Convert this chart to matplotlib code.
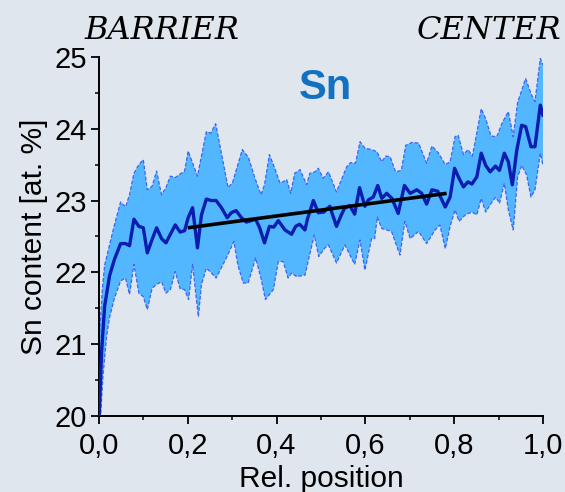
import matplotlib.pyplot as plt
import numpy as np
from matplotlib.ticker import FuncFormatter, MultipleLocator

# mean Sn profile
mean_x = [0.0, 0.006, 0.013, 0.024, 0.035, 0.049, 0.06, 0.069, 0.079, 0.09,
          0.10, 0.109, 0.12, 0.13, 0.141, 0.151, 0.161, 0.172, 0.183, 0.193,
          0.201, 0.211, 0.222, 0.231, 0.242, 0.253, 0.264, 0.276, 0.289, 0.298,
          0.309, 0.321, 0.332, 0.343, 0.353, 0.362, 0.373, 0.384, 0.394, 0.404,
          0.419, 0.434, 0.443, 0.452, 0.464, 0.470, 0.483, 0.494, 0.507, 0.520,
          0.535, 0.546, 0.553, 0.565, 0.576, 0.587, 0.599, 0.607, 0.618, 0.628,
          0.637, 0.648, 0.660, 0.674, 0.688, 0.701, 0.716, 0.727, 0.738, 0.750,
          0.763, 0.780, 0.791, 0.801, 0.811, 0.821, 0.831, 0.840, 0.851, 0.861,
          0.871, 0.881, 0.893, 0.902, 0.913, 0.922, 0.931, 0.941, 0.952, 0.961,
          0.973, 0.982, 0.994, 1.0]
mean_y = [19.9, 20.88, 21.53, 21.95, 22.18, 22.40, 22.40, 22.37, 22.74, 22.64,
          22.62, 22.27, 22.46, 22.62, 22.47, 22.41, 22.53, 22.66, 22.56, 22.58,
          22.76, 22.90, 22.34, 22.80, 23.02, 23.00, 23.00, 22.90, 22.76, 22.83,
          22.86, 22.76, 22.70, 22.72, 22.74, 22.62, 22.41, 22.64, 22.63, 22.72,
          22.59, 22.53, 22.64, 22.67, 22.59, 22.75, 23.00, 22.83, 22.84, 22.92,
          22.64, 22.80, 22.89, 22.93, 22.81, 23.18, 22.92, 23.01, 23.05, 23.21,
          23.03, 23.10, 23.03, 22.82, 23.21, 23.10, 23.15, 23.10, 22.95, 23.15,
          23.13, 22.91, 23.05, 23.45, 23.31, 23.19, 23.26, 23.23, 23.33, 23.66,
          23.49, 23.40, 23.48, 23.42, 23.66, 23.54, 23.22, 23.70, 24.05, 24.03,
          23.75, 23.75, 24.33, 24.19]

# upper edge of the spread band
upper_x = [0.0, 0.002, 0.008, 0.013, 0.024, 0.035, 0.049, 0.06, 0.069, 0.079,
           0.09, 0.10, 0.109, 0.12, 0.13, 0.141, 0.151, 0.161, 0.172, 0.183,
           0.193, 0.201, 0.222, 0.242, 0.252, 0.263, 0.291, 0.301, 0.323, 0.337,
           0.351, 0.365, 0.373, 0.384, 0.396, 0.408, 0.423, 0.432, 0.441, 0.453,
           0.468, 0.475, 0.487, 0.494, 0.505, 0.517, 0.535, 0.558, 0.567, 0.578,
           0.588, 0.599, 0.614, 0.626, 0.637, 0.646, 0.656, 0.668, 0.681, 0.691,
           0.705, 0.720, 0.738, 0.750, 0.765, 0.780, 0.791, 0.802, 0.809, 0.821,
           0.831, 0.841, 0.851, 0.861, 0.871, 0.883, 0.896, 0.908, 0.922, 0.933,
           0.943, 0.961, 0.973, 0.982, 0.994, 1.0]
upper_y = [20.3, 21.18, 21.78, 22.10, 22.38, 22.66, 22.98, 22.91, 23.08, 23.38,
           23.50, 23.57, 23.15, 23.20, 23.41, 23.08, 23.18, 23.34, 23.32, 23.37,
           23.41, 23.69, 23.34, 23.96, 23.94, 24.07, 23.18, 23.25, 23.71, 23.60,
           23.32, 23.08, 23.22, 23.64, 23.45, 23.24, 23.29, 23.10, 23.38, 23.43,
           23.22, 23.38, 23.40, 23.45, 23.31, 23.40, 23.12, 23.47, 23.53, 23.52,
           23.82, 23.73, 23.71, 23.68, 23.54, 23.62, 23.61, 23.40, 23.42, 23.77,
           23.81, 23.80, 23.52, 23.76, 23.66, 23.50, 23.54, 23.89, 23.91, 23.64,
           23.71, 23.62, 23.94, 24.28, 24.14, 23.90, 23.89, 24.08, 24.24, 23.89,
           24.37, 24.70, 24.49, 24.38, 24.98, 24.89]

# lower edge of the spread band
lower_x = [0.0, 0.004, 0.009, 0.017, 0.024, 0.035, 0.049, 0.06, 0.069, 0.079,
           0.09, 0.10, 0.109, 0.12, 0.13, 0.141, 0.151, 0.161, 0.172, 0.183,
           0.193, 0.202, 0.211, 0.224, 0.231, 0.242, 0.252, 0.264, 0.287, 0.304,
           0.313, 0.325, 0.336, 0.353, 0.365, 0.375, 0.393, 0.404, 0.415, 0.426,
           0.434, 0.445, 0.464, 0.485, 0.495, 0.509, 0.517, 0.535, 0.554, 0.576,
           0.588, 0.599, 0.614, 0.621, 0.627, 0.637, 0.648, 0.659, 0.678, 0.689,
           0.701, 0.720, 0.738, 0.757, 0.768, 0.780, 0.791, 0.802, 0.811, 0.825,
           0.840, 0.851, 0.861, 0.871, 0.883, 0.894, 0.902, 0.913, 0.922, 0.933,
           0.943, 0.952, 0.963, 0.973, 0.982, 0.994, 1.0]
lower_y = [19.8, 20.0, 20.53, 21.09, 21.37, 21.64, 21.88, 21.92, 21.69, 22.11,
           21.71, 21.66, 21.48, 21.78, 21.83, 21.87, 21.71, 21.76, 22.01, 21.77,
           21.76, 21.62, 22.11, 21.38, 21.83, 22.06, 22.00, 21.92, 22.20, 22.43,
           22.10, 21.85, 21.85, 22.20, 21.92, 21.62, 21.76, 22.15, 22.15, 21.92,
           21.99, 21.94, 21.96, 22.52, 22.22, 22.34, 22.38, 22.13, 22.38, 22.11,
           22.45, 22.03, 22.47, 22.47, 22.77, 22.61, 22.59, 22.57, 22.24, 22.71,
           22.47, 22.57, 22.40, 22.59, 22.66, 22.33, 22.64, 22.87, 22.71, 22.80,
           22.84, 22.80, 23.03, 22.84, 22.96, 23.05, 22.96, 23.24, 22.87, 22.59,
           23.33, 23.49, 23.36, 23.05, 23.15, 23.66, 23.49]

# linear fit segment
fit_x = [0.2, 0.783]
fit_y = [22.62, 23.10]

bg = "#dfe6ed"
plt.rcParams["font.family"] = ["Liberation Sans", "DejaVu Sans"]

fig = plt.figure(figsize=(5.65, 4.92), dpi=100, facecolor=bg)
ax = fig.add_axes([0.175, 0.155, 0.786, 0.729], facecolor=bg)

band_x = np.concatenate([upper_x, lower_x[::-1]])
band_y = np.concatenate([upper_y, lower_y[::-1]])
ax.fill(band_x, band_y, color="#52b7ff", lw=0, zorder=1)
ax.plot(upper_x, upper_y, color="#3d63f5", lw=0.9, ls=(0, (3, 1.5)), zorder=2)
ax.plot(lower_x, lower_y, color="#3d63f5", lw=0.9, ls=(0, (3, 1.5)), zorder=2)
ax.plot(mean_x, mean_y, color="#0b1cb0", lw=2.4, zorder=3)
ax.plot(fit_x, fit_y, color="black", lw=2.6, zorder=4, solid_capstyle="butt")

ax.set_xlim(0, 1)
ax.set_ylim(20, 25)
ax.xaxis.set_major_locator(MultipleLocator(0.2))
ax.xaxis.set_minor_locator(MultipleLocator(0.1))
ax.yaxis.set_major_locator(MultipleLocator(1))
ax.yaxis.set_minor_locator(MultipleLocator(0.5))
ax.xaxis.set_major_formatter(FuncFormatter(lambda v, _: f"{v:.1f}".replace(".", ",")))
ax.yaxis.set_major_formatter(FuncFormatter(lambda v, _: f"{v:.0f}"))

for side in ("top", "right"):
    ax.spines[side].set_visible(False)
for side in ("left", "bottom"):
    ax.spines[side].set_linewidth(1.4)
ax.tick_params(which="major", direction="out", length=6, width=1.3,
               labelsize=21, pad=2.5)
ax.tick_params(axis="x", which="major", pad=5.5)
ax.tick_params(which="minor", direction="out", length=3, width=1.1)

ax.set_xlabel("Rel. position", fontsize=21.5, labelpad=4)
ax.set_ylabel("Sn content [at. %]", fontsize=21.5, labelpad=5)

ax.text(0.51, 24.415, "Sn", color="#1371c2", fontsize=30, fontweight="bold",
        ha="center", va="baseline")

fig.text(0.286, 0.921, "BARRIER", family="DejaVu Serif", style="italic",
         fontsize=23, ha="center", va="baseline")
fig.text(0.866, 0.921, "CENTER", family="DejaVu Serif", style="italic",
         fontsize=23, ha="center", va="baseline")

fig.savefig("out.png", dpi=100, facecolor=bg)
